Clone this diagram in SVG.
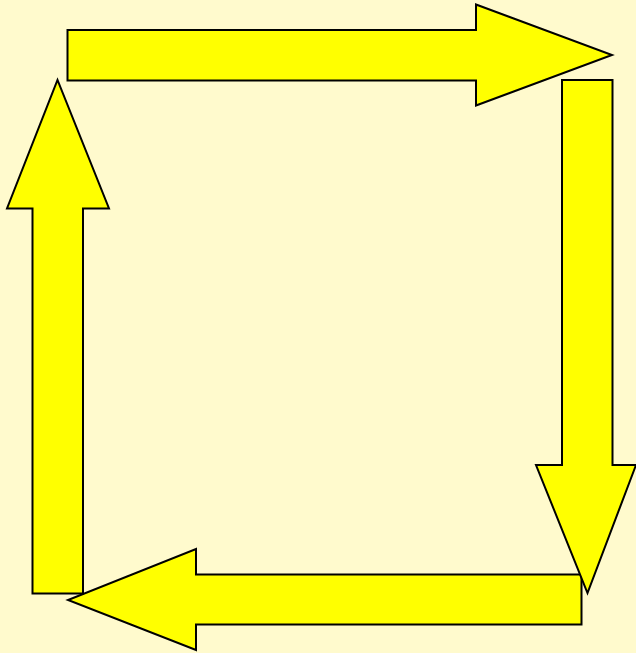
<svg xmlns="http://www.w3.org/2000/svg" width="636" height="653" viewBox="0 0 636 653">
<style>
.arrow{fill:#FFFF00;stroke:#000;stroke-width:2;stroke-linejoin:miter}
</style>
<rect x="0" y="0" width="636" height="653" fill="#FFFACD"/>
<g id="connectors">
<g id="arrow-top"><polygon class="arrow" points="67.5,30 476,30 476,4.5 612,55 476,105.5 476,80.5 67.5,80.5"/></g>
<g id="arrow-bottom"><polygon class="arrow" points="581.5,574.5 196,574.5 196,549 68,600 196,650 196,624.5 581.5,624.5"/></g>
<g id="arrow-right"><polygon class="arrow" points="562,80 612.5,80 612.5,465 636,465 587.5,593 536,465 562,465"/></g>
<g id="arrow-left"><polygon class="arrow" points="32.5,593.5 83,593.5 83,208.5 109,208.5 57.5,80 7,208.5 32.5,208.5"/></g>
</g>
</svg>
